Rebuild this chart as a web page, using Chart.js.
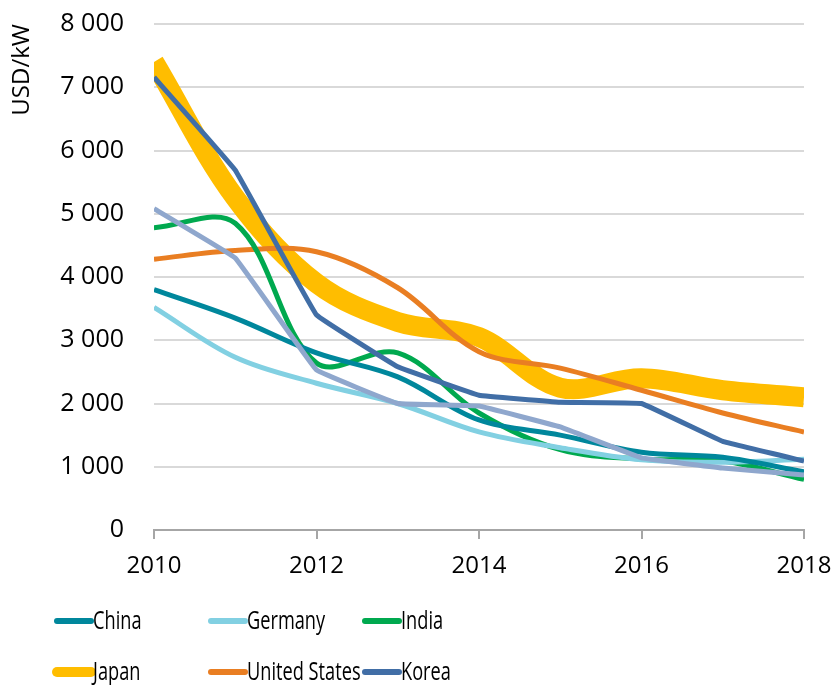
<!DOCTYPE html>
<html>
<head>
<meta charset="utf-8">
<script src="https://cdn.jsdelivr.net/npm/chart.js@4.4.0/dist/chart.umd.min.js"></script>
<style>
  html, body { margin: 0; padding: 0; background: #fff; }
  #wrap { width: 837px; height: 685px; position: relative; }
</style>
</head>
<body>
<div id="wrap"><canvas id="grafico"></canvas></div>
<script>
// Años y valores (USD/kW)
const years = [2010, 2011, 2012, 2013, 2014, 2015, 2016, 2017, 2018];
const china = [3800, 3350, 2800, 2420, 1740, 1500, 1230, 1150, 920];
const germany = [3520, 2730, 2320, 2000, 1550, 1300, 1110, 1070, 1120];
const india = [4780, 4850, 2640, 2800, 1850, 1270, 1120, 1090, 800];
const japan = [7400, 5250, 3900, 3290, 3050, 2250, 2400, 2210, 2100];
const unitedStates = [4280, 4420, 4400, 3830, 2820, 2560, 2210, 1850, 1550];
const korea = [7160, 5690, 3400, 2580, 2130, 2020, 2000, 1400, 1090];
const other = [5080, 4300, 2530, 2000, 1960, 1630, 1140, 980, 870];
const yTicks = [0, 1000, 2000, 3000, 4000, 5000, 6000, 7000, 8000];

const pts = arr => arr.map((v, i) => ({ x: years[i], y: v }));
const fmt = v => String(v).replace(/\B(?=(\d{3})+(?!\d))/g, " ");
const FONT = "'Open Sans', 'Noto Sans', sans-serif";

const series = [
  { label: "China", data: china, color: "#00879C", width: 5, tension: 0.35, order: 3, legend: true },
  { label: "Germany", data: germany, color: "#82D0E2", width: 5, tension: 0.35, order: 4, legend: true },
  { label: "India", data: india, color: "#00A94F", width: 5, tension: 0.35, order: 5, legend: true },
  { label: "Japan", data: japan, color: "#FFBD00", width: 20, tension: 0.35, order: 9, legend: true },
  { label: "United States", data: unitedStates, color: "#E97E22", width: 5, tension: 0.35, order: 6, legend: true },
  { label: "Korea", data: korea, color: "#416EA6", width: 5, tension: 0.05, order: 2, legend: true },
  { label: "Other", data: other, color: "#8FA7CD", width: 5, tension: 0.05, order: 1, legend: false }
];

// Leyenda en dos filas y tres columnas, como en el original
const leyenda = {
  id: "leyenda",
  afterDraw(chart) {
    const ctx = chart.ctx;
    const cols = [57, 211, 365];
    const rows = [621, 672];
    const items = series.filter(s => s.legend);
    ctx.save();
    items.forEach((s, i) => {
      const x = cols[i % 3];
      const y = rows[Math.floor(i / 3)];
      ctx.strokeStyle = s.color;
      ctx.lineCap = "round";
      ctx.lineWidth = s.width > 10 ? 10 : 6;
      ctx.beginPath();
      ctx.moveTo(x, y);
      ctx.lineTo(x + 34, y);
      ctx.stroke();
      ctx.fillStyle = "#000";
      ctx.font = "26px " + FONT;
      ctx.textBaseline = "middle";
      ctx.save();
      ctx.translate(x + 36, y);
      ctx.scale(0.7, 1);
      ctx.fillText(s.label, 0, 1);
      ctx.restore();
    });
    ctx.restore();
  }
};

new Chart(document.getElementById("grafico"), {
  type: "line",
  data: {
    datasets: series.map(s => ({
      label: s.label,
      data: pts(s.data),
      borderColor: s.color,
      backgroundColor: s.color,
      borderWidth: s.width,
      tension: s.tension,
      pointRadius: 0,
      fill: false,
      order: s.order,
      borderCapStyle: "butt"
    }))
  },
  options: {
    responsive: true,
    maintainAspectRatio: false,
    animation: false,
    layout: { padding: { top: 24, right: 33, bottom: 95, left: 8 } },
    plugins: {
      legend: { display: false },
      tooltip: { enabled: false }
    },
    scales: {
      x: {
        type: "linear",
        min: 2010,
        max: 2018,
        afterFit: s => { s.height = 60; s.paddingLeft = 0; s.paddingRight = 0; },
        ticks: {
          stepSize: 2,
          color: "#000",
          font: { size: 24, family: FONT },
          padding: 13,
          maxRotation: 0,
          callback: v => String(v)
        },
        grid: { drawOnChartArea: false, drawTicks: true, tickLength: 9, color: "#A6A6A6", lineWidth: 2 },
        border: { color: "#A6A6A6", width: 2 }
      },
      y: {
        min: 0,
        max: 8000,
        afterBuildTicks: s => { s.ticks = yTicks.map(v => ({ value: v })); },
        afterFit: s => { s.width = 146; s.paddingTop = 0; s.paddingBottom = 0; },
        ticks: {
          color: "#000",
          font: { size: 25, family: FONT },
          padding: 30,
          callback: v => fmt(v)
        },
        grid: { color: "#D9D9D9", lineWidth: 2, drawTicks: false },
        border: { display: false },
        title: {
          display: true,
          text: "USD/kW",
          align: "end",
          color: "#000",
          font: { size: 24, family: FONT },
          padding: { top: 0, bottom: 0 }
        }
      }
    }
  },
  plugins: [leyenda]
});
</script>
</body>
</html>
